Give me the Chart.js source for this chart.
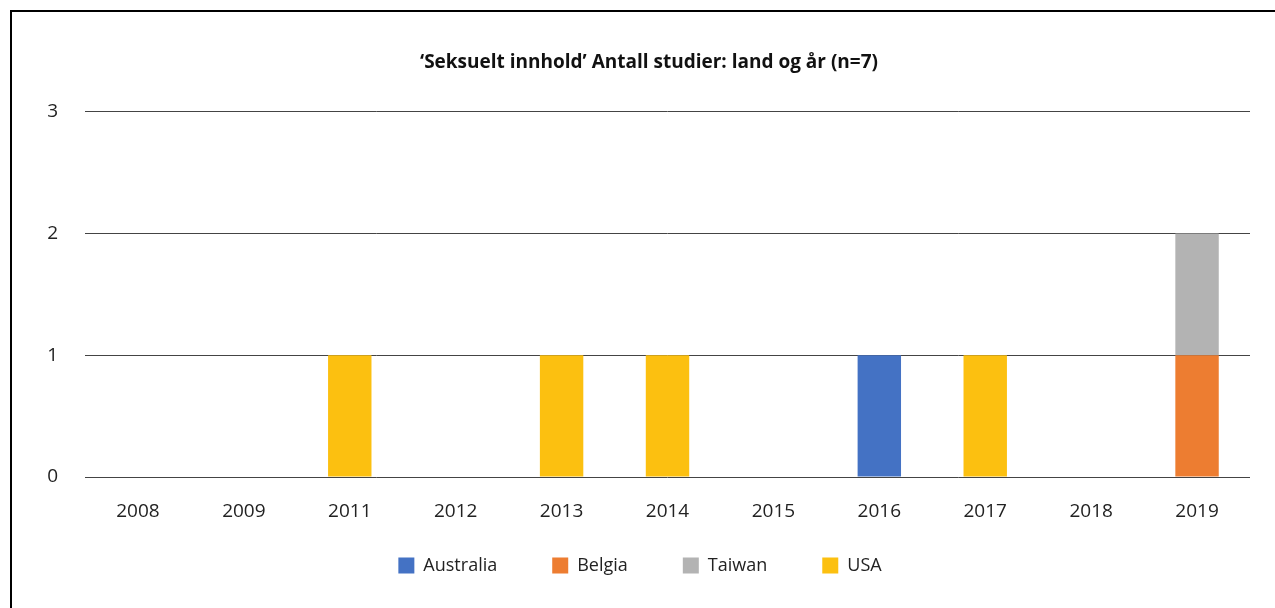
<!DOCTYPE html>
<html>
<head>
<meta charset="utf-8">
<script src="https://cdn.jsdelivr.net/npm/chart.js@4"></script>
<style>
  html, body { margin: 0; padding: 0; background: #fff; }
  #frame { position: absolute; left: 10px; top: 10px; width: 1300px; height: 700px;
           border-left: 2px solid #000; border-top: 2px solid #000; box-sizing: border-box; }
  #wrap { position: absolute; left: 0; top: 0; width: 1275px; height: 608px; }
</style>
</head>
<body>
<div id="frame"></div>
<div id="wrap"><canvas id="c" width="1275" height="608"></canvas></div>
<script>
const years = ['2008','2009','2011','2012','2013','2014','2015','2016','2017','2018','2019'];
const australia = [0,0,0,0,0,0,0,1,0,0,0];
const belgia    = [0,0,0,0,0,0,0,0,0,0,1];
const taiwan    = [0,0,0,0,0,0,0,0,0,0,1];
const usa       = [0,0,1,0,1,1,0,0,1,0,0];
const yTicks = [0,1,2,3];

const FONT = 'Open Sans';
Chart.defaults.font.family = FONT;
Chart.defaults.color = '#222';

const ds = (label, data, color) => ({
  label, data, backgroundColor: color, borderWidth: 0,
  barPercentage: 0.41, categoryPercentage: 1.0
});

// fine-tune positions of title and legend boxes after layout
const shiftPlugin = {
  id: 'shiftBoxes',
  afterLayout(chart) {
    const t = chart.titleBlock;
    if (t) { t.left += 18; t.right += 18; }
    const l = chart.legend;
    if (l) {
      l.top = 501.5; l.bottom = chart.height;
      l.height = l.bottom - l.top;
      l.left += 9; l.right += 9;
    }
  }
};

new Chart(document.getElementById('c'), {
  type: 'bar',
  data: {
    labels: years,
    datasets: [
      ds('Australia', australia, '#4472C4'),
      ds('Belgia', belgia, '#ED7D31'),
      ds('Taiwan', taiwan, '#B3B3B3'),
      ds('USA', usa, '#FCC010')
    ]
  },
  plugins: [shiftPlugin],
  options: {
    responsive: false,
    animation: false,
    layout: { padding: { left: 12, right: 25, top: 51, bottom: 19 } },
    plugins: {
      title: {
        display: true,
        text: '‘Seksuelt innhold’ Antall studier: land og år (n=7)',
        font: { size: 19, weight: 'bold' },
        color: '#111',
        padding: { top: 0, bottom: 38 }
      },
      legend: {
        position: 'bottom',
        maxHeight: 60,
        labels: {
          boxWidth: 16, boxHeight: 16, padding: 55,
          font: { size: 18 }, color: '#222'
        }
      },
      tooltip: { enabled: false }
    },
    scales: {
      x: {
        stacked: true,
        grid: { display: false, drawTicks: false },
        border: { display: false },
        ticks: { font: { size: 19 }, padding: 23, color: '#222', autoSkip: false, maxRotation: 0 },
        afterFit: s => { s.height = 52; }
      },
      y: {
        stacked: true,
        min: 0, max: 3,
        afterBuildTicks: s => { s.ticks = yTicks.map(v => ({ value: v })); },
        grid: { color: '#444', lineWidth: 1, drawTicks: false },
        border: { display: false },
        ticks: { font: { size: 19 }, padding: 27, color: '#222' },
        afterFit: s => { s.width = 73; }
      }
    }
  }
});
</script>
</body>
</html>
